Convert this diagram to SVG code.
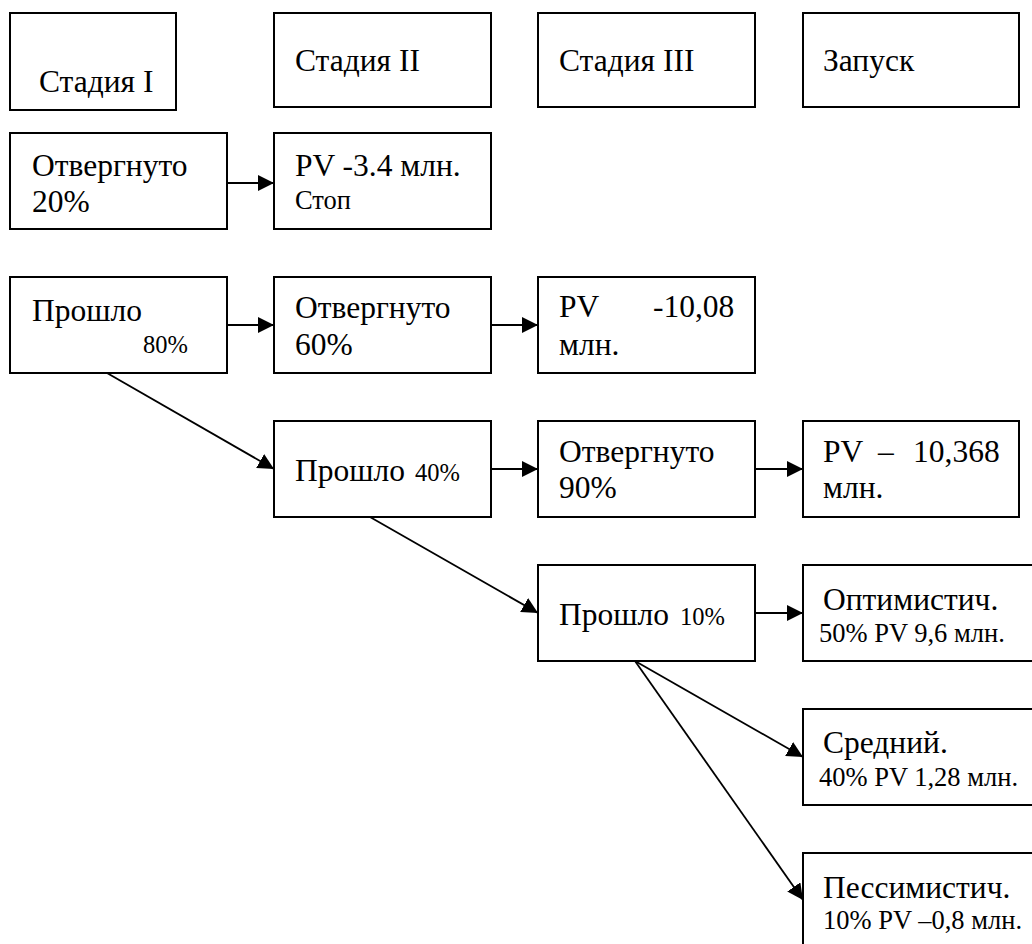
<svg xmlns="http://www.w3.org/2000/svg" width="1032" height="944" viewBox="0 0 1032 944" font-family="Liberation Serif, serif">
<style>
rect{fill:#fff;stroke:#000;stroke-width:2}
text{fill:#000;font-size:31.5px}
.s{font-size:24.5px}
.m{font-size:26.5px}
.c line{stroke:#000;stroke-width:1.8;marker-end:url(#ah)}
</style>
<defs>
<marker id="ah" markerUnits="userSpaceOnUse" markerWidth="18" markerHeight="16" refX="16" refY="8" orient="auto">
<path d="M0,0 L16,8 L0,16 Z" fill="#000"/>
</marker>
</defs>
<rect width="1032" height="944" style="stroke:none"/>
<g font-family="Liberation Serif, serif">
<g id="n-st1"><rect x="10" y="13" width="166" height="97"/><text x="39" y="92">Стадия I</text></g>
<g id="n-st2"><rect x="274" y="13" width="217" height="94"/><text x="295" y="71">Стадия II</text></g>
<g id="n-st3"><rect x="538" y="13" width="217" height="94"/><text x="559" y="71">Стадия III</text></g>
<g id="n-launch"><rect x="803" y="13" width="216" height="94"/><text x="823" y="71">Запуск</text></g>
<g id="n-rej20"><rect x="10" y="133" width="217" height="96"/><text x="32" y="176">Отвергнуто</text><text x="32" y="212">20%</text></g>
<g id="n-pv34"><rect x="274" y="133" width="217" height="96"/><text x="295" y="176">PV -3.4 млн.</text><text class="m" x="295" y="209">Стоп</text></g>
<g id="n-pass80"><rect x="10" y="277" width="217" height="96"/><text x="32" y="321">Прошло</text><text class="s" x="143" y="353">80%</text></g>
<g id="n-rej60"><rect x="274" y="277" width="217" height="96"/><text x="295" y="318">Отвергнуто</text><text x="295" y="355">60%</text></g>
<g id="n-pv1008"><rect x="538" y="277" width="217" height="96"/><text x="559" y="317">PV</text><text x="653" y="317">-10,08</text><text x="559" y="355">млн.</text></g>
<g id="n-pass40"><rect x="274" y="421" width="217" height="96"/><text x="295" y="481">Прошло<tspan class="s" x="415">40%</tspan></text></g>
<g id="n-rej90"><rect x="538" y="421" width="217" height="96"/><text x="559" y="462">Отвергнуто</text><text x="559" y="498">90%</text></g>
<g id="n-pv10368"><rect x="803" y="421" width="216" height="96"/><text x="823" y="462">PV</text><text x="878" y="462">–</text><text x="913" y="462">10,368</text><text x="823" y="498">млн.</text></g>
<g id="n-pass10"><rect x="538" y="565" width="217" height="96"/><text x="559" y="625">Прошло<tspan class="s" x="680">10%</tspan></text></g>
<g id="n-opt"><rect x="803" y="565" width="240" height="96"/><text x="823" y="610">Оптимистич.</text><text class="m" x="819" y="642">50% PV 9,6 млн.</text></g>
<g id="n-mid"><rect x="803" y="709" width="240" height="96"/><text x="823" y="753">Средний.</text><text class="m" x="819" y="786">40% PV 1,28 млн.</text></g>
<g id="n-pess"><rect x="803" y="853" width="240" height="100"/><text x="823" y="898">Пессимистич.</text><text class="m" x="823" y="929">10% PV –0,8 млн.</text></g>
</g>
<g class="c" id="connectors">
<line x1="227" y1="183" x2="274" y2="183"/>
<line x1="227" y1="325" x2="274" y2="325"/>
<line x1="491" y1="325" x2="538" y2="325"/>
<line x1="491" y1="469" x2="538" y2="469"/>
<line x1="755" y1="469" x2="803" y2="469"/>
<line x1="755" y1="613" x2="803" y2="613"/>
<line x1="107" y1="373" x2="274" y2="469"/>
<line x1="370" y1="517" x2="538" y2="613"/>
<line x1="635" y1="661" x2="803" y2="757"/>
<line x1="635" y1="661" x2="803" y2="900"/>
</g>
</svg>
